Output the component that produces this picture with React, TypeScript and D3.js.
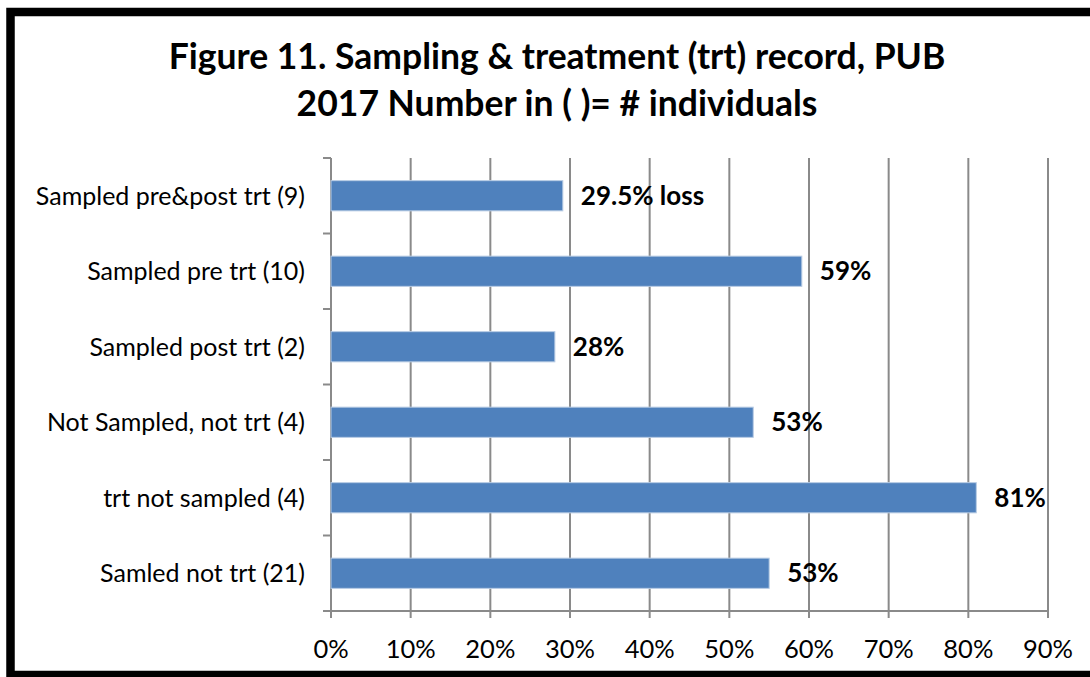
import React from 'react';
import * as d3 from 'd3';

const categories = [
  'Sampled pre&post trt (9)',
  'Sampled pre trt (10)',
  'Sampled post trt (2)',
  'Not Sampled, not trt (4)',
  'trt not sampled (4)',
  'Samled not trt (21)',
];
const values = [29.1, 59.1, 28.1, 53, 81, 55];
const valueLabels = ['29.5% loss', '59%', '28%', '53%', '81%', '53%'];
const xTicks = [0, 10, 20, 30, 40, 50, 60, 70, 80, 90];
const titleLines = [
  'Figure 11. Sampling & treatment (trt) record, PUB',
  '2017 Number in ( )= # individuals',
];

const W = 1090;
const H = 677;
const margin = { top: 158, right: 42, bottom: 66, left: 331 };
const FONT = 'Lato, "Open Sans", sans-serif';
const GRID = '#8a8a8a';

const App: React.FC = () => {
  const x = d3.scaleLinear().domain([0, 90]).range([margin.left, W - margin.right]);
  const y = d3
    .scaleBand<string>()
    .domain(categories)
    .range([margin.top, H - margin.bottom])
    .paddingInner(0.6)
    .paddingOuter(0.3);
  const step = y.step();
  const plotBottom = H - margin.bottom;
  // band boundaries for the category ticks
  const boundaries = d3.range(categories.length + 1).map(i => margin.top + i * step);

  return (
    <svg width={W} height={H} style={{ position: 'absolute', left: 0, top: 0, background: '#fff' }}>
      <rect x={10.5} y={12} width={W} height={663} fill="#fff" stroke="#000" strokeWidth={8.5} />

      {titleLines.map((t, i) => (
        <text
          key={t}
          x={557}
          y={69 + i * 47}
          textAnchor="middle"
          fontFamily={FONT}
          fontWeight="bold"
          fontSize={35.5}
          fill="#000"
        >
          {t}
        </text>
      ))}

      {/* vertical gridlines */}
      {xTicks.map(t => (
        <line key={t} x1={x(t)} x2={x(t)} y1={margin.top} y2={plotBottom + 7} stroke={GRID} strokeWidth={2} />
      ))}

      {/* category axis */}
      <line x1={margin.left} x2={margin.left} y1={margin.top} y2={plotBottom} stroke={GRID} strokeWidth={2} />
      {boundaries.map((b, i) => (
        <line key={i} x1={margin.left - 8} x2={margin.left} y1={b} y2={b} stroke={GRID} strokeWidth={2} />
      ))}
      <line x1={margin.left - 8} x2={x(90)} y1={plotBottom} y2={plotBottom} stroke={GRID} strokeWidth={2} />

      {/* bars */}
      {categories.map((c, i) => (
        <rect
          key={c}
          x={x(0)}
          y={y(c)}
          width={x(values[i]) - x(0)}
          height={y.bandwidth()}
          fill="#4F81BD"
          stroke="#b8cce4"
          strokeWidth={1}
        />
      ))}

      {/* category labels */}
      {categories.map(c => (
        <text
          key={c}
          x={305}
          y={(y(c) ?? 0) + y.bandwidth() / 2}
          dy="0.35em"
          textAnchor="end"
          fontFamily={FONT}
          fontSize={25}
          fill="#000"
        >
          {c}
        </text>
      ))}

      {/* value labels */}
      {categories.map((c, i) => (
        <text
          key={c}
          x={x(values[i]) + 18}
          y={(y(c) ?? 0) + y.bandwidth() / 2}
          dy="0.35em"
          fontFamily={FONT}
          fontWeight="bold"
          fontSize={26}
          fill="#000"
        >
          {valueLabels[i]}
        </text>
      ))}

      {/* x tick labels */}
      {xTicks.map(t => (
        <text
          key={t}
          x={x(t)}
          y={658}
          textAnchor="middle"
          fontFamily={FONT}
          fontSize={25.5}
          fill="#000"
        >
          {t}%
        </text>
      ))}
    </svg>
  );
};

export default App;
